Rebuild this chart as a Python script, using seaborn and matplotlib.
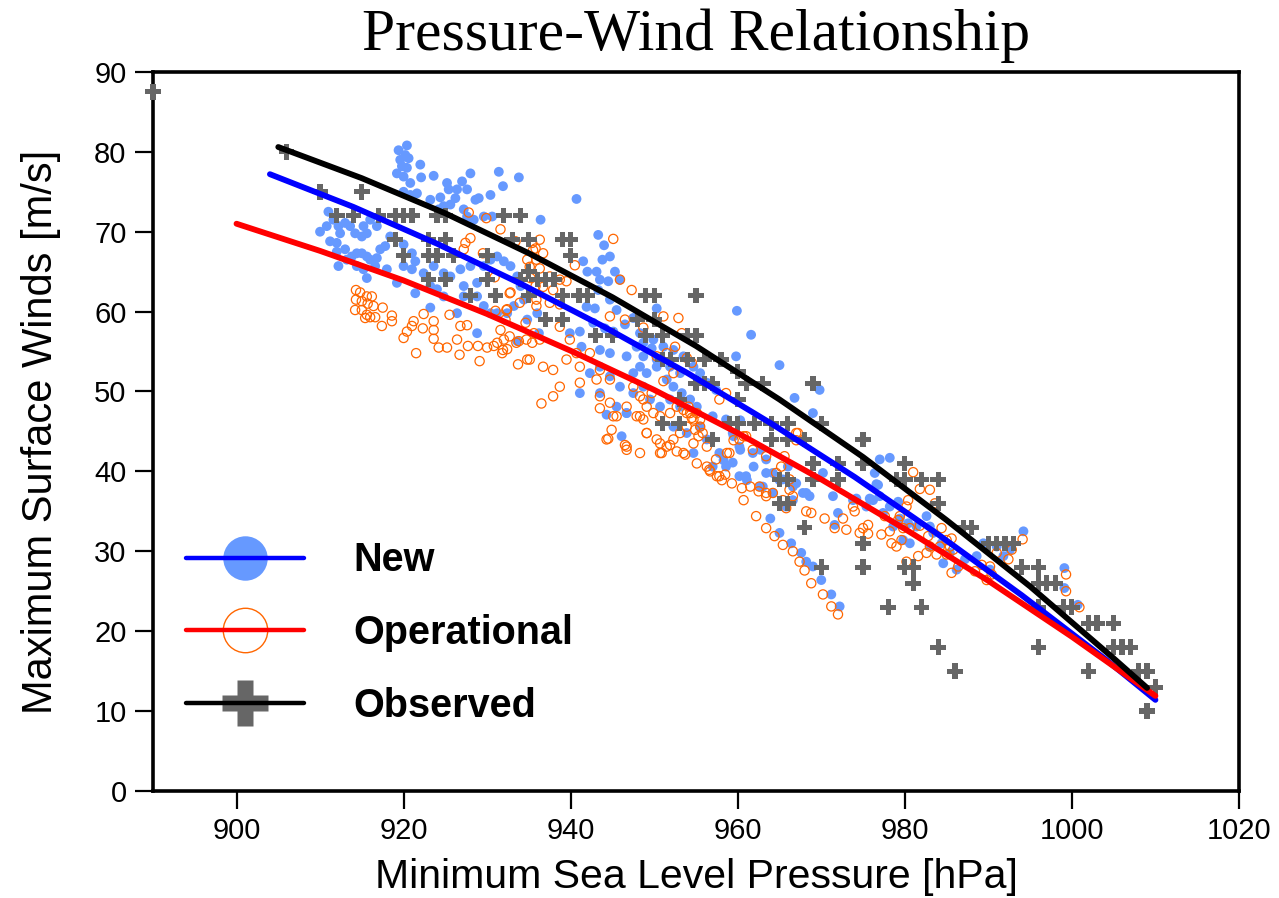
import matplotlib
matplotlib.use("Agg")
import matplotlib.pyplot as plt
import pandas as pd
import seaborn as sns
from matplotlib.lines import Line2D
from matplotlib.legend_handler import HandlerTuple

# ---------------------------------------------------------------------------
# Pressure (hPa) / maximum wind (m/s) pairs
# ---------------------------------------------------------------------------
new_points = [
    (920.4, 80.8), (919.4, 80.2), (920.2, 79.6), (919.6, 79.0), (920.6, 79.2),
    (919.8, 78.2), (920.4, 78.0), (919.2, 77.3), (920.0, 76.9), (920.8, 76.1),
    (922.0, 78.4), (922.1, 76.8), (923.6, 77.0), (925.2, 76.1), (925.4, 75.3),
    (926.4, 75.3), (927.0, 76.3), (928.0, 77.3), (927.6, 75.3), (928.6, 74.0),
    (929.0, 74.2), (930.4, 74.6), (931.4, 77.5), (933.8, 76.8), (931.9, 75.7),
    (921.6, 74.8), (920.8, 74.6), (920.0, 75.0), (923.2, 74.0), (924.4, 74.3),
    (925.6, 73.4), (924.8, 73.2), (924.2, 72.8), (926.2, 74.2), (927.2, 72.8),
    (927.6, 71.9), (928.4, 71.5), (929.6, 71.9), (930.6, 71.9), (910.0, 70.0),
    (911.0, 72.5), (911.6, 71.5), (910.8, 70.7), (912.2, 70.7), (913.0, 71.1),
    (912.4, 69.8), (913.6, 70.7), (914.2, 69.8), (915.0, 69.4), (915.2, 70.7),
    (916.0, 71.5), (916.8, 70.7), (915.6, 69.8), (911.2, 68.8), (912.0, 68.6),
    (912.0, 67.5), (913.0, 67.8), (913.8, 66.9), (914.4, 67.3), (915.0, 67.3),
    (915.6, 66.9), (916.0, 66.5), (916.8, 66.7), (917.2, 67.8), (917.8, 68.2),
    (918.4, 69.4), (920.0, 68.4), (921.0, 67.3), (921.4, 66.3), (921.0, 65.3),
    (920.0, 65.7), (918.0, 65.3), (916.6, 65.7), (915.2, 65.3), (915.6, 64.2),
    (914.4, 65.7), (913.2, 66.5), (912.2, 65.7), (919.2, 63.6), (921.4, 62.3),
    (923.2, 63.2), (924.0, 62.8), (924.8, 61.9), (922.4, 64.8), (923.6, 65.7),
    (924.8, 64.8), (925.6, 64.4), (926.8, 65.3), (927.2, 63.2), (928.8, 63.6),
    (928.0, 65.7), (929.6, 65.7), (930.4, 66.5), (931.2, 66.9), (932.0, 66.3),
    (932.8, 65.7), (933.6, 64.4), (934.0, 63.2), (934.4, 61.5), (933.2, 60.7),
    (932.4, 59.8), (931.2, 59.8), (930.4, 59.8), (929.6, 60.7), (928.8, 61.9),
    (927.2, 61.9), (923.2, 60.5), (926.4, 59.8), (928.8, 57.3), (933.6, 56.3),
    (934.8, 59.0), (936.0, 59.8), (936.2, 57.3),
    (936.4, 71.5), (940.7, 74.1), (943.3, 69.6), (944.0, 68.3), (944.7, 66.9),
    (943.8, 66.5), (941.5, 66.3), (942.0, 65.0), (943.1, 65.0), (945.3, 65.0),
    (945.9, 64.0), (944.5, 63.8), (943.5, 64.0), (943.3, 62.7), (941.9, 60.6),
    (942.9, 60.4), (944.7, 61.5), (945.5, 60.2), (950.3, 60.4), (947.5, 59.2),
    (946.5, 58.4), (945.1, 57.5), (944.1, 57.9), (942.7, 58.6), (941.1, 57.5),
    (939.9, 57.3), (941.3, 55.6), (943.5, 55.2), (944.7, 54.8), (946.7, 54.4),
    (947.9, 55.6), (948.7, 54.4), (949.7, 55.4), (948.3, 53.1), (947.5, 52.3),
    (949.1, 52.3), (950.3, 53.1), (951.5, 51.5), (952.3, 50.6), (953.3, 49.8),
    (954.3, 49.0), (955.1, 48.1), (953.1, 48.1), (951.9, 49.0), (950.7, 48.1),
    (949.5, 49.0), (948.7, 50.6), (947.5, 49.8), (945.9, 50.6), (944.7, 51.9),
    (943.5, 53.1), (942.3, 52.3), (941.1, 49.8), (943.5, 49.8), (945.5, 48.1),
    (946.7, 47.3), (946.1, 44.4), (955.5, 45.6), (957.0, 46.9), (958.6, 46.5),
    (959.4, 44.8), (960.2, 43.1), (961.8, 42.3), (963.4, 41.5), (964.2, 39.8),
    (965.4, 39.0), (966.6, 38.1), (959.4, 41.1), (960.2, 39.4), (958.6, 40.6),
    (957.8, 42.3), (956.3, 44.0), (953.9, 44.8), (952.3, 45.6), (954.7, 42.3),
    (957.0, 40.6), (961.0, 39.4), (963.0, 38.1), (959.9, 60.1), (961.6, 57.1),
    (965.0, 53.3), (966.8, 49.2), (969.0, 47.3), (969.8, 50.2), (977.0, 41.5),
    (978.2, 41.7), (976.6, 38.4), (968.2, 37.3), (966.0, 40.6), (948.3, 57.3),
    (949.9, 56.5), (951.1, 55.6), (952.3, 55.2), (953.5, 54.4), (954.7, 53.1),
    (955.5, 52.3), (956.3, 51.1), (957.4, 50.2), (948.7, 56.1), (950.3, 54.0),
    (951.9, 53.1), (953.1, 52.3), (959.8, 54.4),
    (944.3, 47.1), (946.7, 47.3), (960.3, 42.7), (961.9, 40.6), (961.1, 38.9),
    (962.7, 38.1), (964.2, 37.3), (963.4, 39.8), (965.0, 38.9), (967.0, 38.5),
    (967.8, 37.3), (968.6, 36.9), (966.6, 36.4), (965.8, 35.6), (963.9, 34.1),
    (965.0, 32.3), (966.4, 31.0), (967.6, 29.8), (968.2, 28.7), (969.0, 28.1),
    (970.0, 26.4), (971.2, 24.6), (972.2, 23.1), (970.2, 39.8), (971.4, 36.9),
    (972.0, 34.8), (971.6, 33.3), (962.7, 42.7), (959.5, 44.4), (958.3, 41.4),
    (960.3, 46.4),
    (976.4, 39.8), (976.8, 38.3), (974.2, 36.6), (976.2, 36.4), (977.0, 36.9),
    (978.2, 35.6), (979.2, 36.2), (979.4, 34.1), (980.4, 33.5), (981.4, 33.1),
    (982.6, 34.4), (983.0, 33.1), (983.4, 32.3), (984.4, 31.0), (985.4, 29.8),
    (984.6, 28.5), (986.2, 27.7), (987.2, 29.0), (988.6, 29.4), (989.4, 31.0),
    (991.0, 30.6), (991.8, 29.4), (992.6, 30.2), (994.2, 32.5), (999.1, 27.9),
    (999.1, 25.4), (1000.7, 23.3), (980.6, 31.0), (983.0, 30.6), (975.8, 36.6),
    (973.8, 36.4), (975.4, 35.6), (977.4, 34.8), (978.6, 33.1), (979.8, 31.4),
    (990.2, 27.7),
]

operational_points = [
    (914.3, 62.7), (914.8, 62.4), (915.6, 61.9), (916.2, 61.9), (914.3, 61.5),
    (915.0, 61.3), (915.7, 61.0), (916.4, 60.7), (914.2, 60.2), (915.0, 60.2),
    (915.6, 59.6), (916.0, 59.3), (916.6, 59.3), (915.4, 59.2), (917.5, 60.5),
    (918.6, 59.5), (918.6, 58.8), (917.4, 58.2), (922.4, 59.7), (923.6, 58.8),
    (921.2, 58.8), (921.0, 58.2), (920.4, 57.5), (920.0, 56.7), (922.3, 57.9),
    (923.6, 57.7), (923.6, 56.6), (921.5, 54.8), (924.2, 55.5), (925.2, 55.5),
    (925.5, 59.6), (926.4, 56.5), (926.8, 58.2), (927.6, 58.3), (926.7, 54.6),
    (927.7, 55.7), (928.9, 55.7), (929.1, 53.8), (930.0, 55.5), (930.8, 55.7),
    (931.2, 56.1), (932.0, 56.5), (931.8, 54.8), (932.4, 55.3), (933.7, 53.4),
    (934.8, 54.0), (935.4, 56.1), (933.8, 56.3), (932.2, 59.0), (931.0, 60.1),
    (931.6, 57.7), (934.6, 58.6), (935.6, 57.3), (927.8, 72.4), (929.9, 71.7),
    (931.6, 70.3), (928.0, 69.2), (927.4, 68.6), (927.2, 67.8), (929.5, 67.3),
    (930.9, 64.3), (932.8, 62.4), (933.4, 68.8), (935.4, 68.6), (935.8, 67.9),
    (934.8, 66.5), (935.2, 64.2), (935.8, 63.2), (935.9, 60.7), (932.4, 60.3),
    (936.3, 69.0), (935.5, 67.7), (936.7, 67.3), (935.9, 66.5), (935.1, 65.6),
    (936.3, 65.4), (937.5, 64.4), (938.7, 64.0), (939.5, 63.8), (936.7, 63.1),
    (937.9, 62.7), (935.9, 61.5), (937.5, 61.1), (938.7, 60.9), (933.9, 61.1),
    (932.7, 62.3), (932.3, 60.2), (945.1, 69.1), (940.5, 65.8), (945.9, 64.0),
    (947.3, 62.7), (944.7, 59.4), (946.5, 59.0), (948.7, 58.0), (951.1, 59.4),
    (952.9, 59.2), (953.3, 57.3), (952.5, 55.6), (951.5, 54.8), (950.3, 54.4),
    (953.9, 54.2), (954.5, 53.6), (952.3, 52.3), (951.1, 51.3), (949.7, 49.8),
    (948.7, 49.0), (947.5, 50.6), (948.3, 49.4), (949.1, 48.1), (949.9, 47.3),
    (950.7, 46.9), (951.9, 47.3), (952.7, 48.1), (953.5, 47.7), (954.3, 47.3),
    (954.7, 46.5), (955.5, 45.6), (953.9, 45.6), (953.1, 44.8), (952.3, 44.0),
    (951.5, 43.1), (950.7, 42.3), (953.5, 42.3), (954.7, 43.5), (956.3, 43.1),
    (957.4, 41.5), (956.6, 40.2), (957.8, 39.4), (959.0, 42.3), (960.2, 44.0),
    (961.8, 42.7), (961.0, 44.4), (958.6, 49.8), (957.8, 49.0), (962.6, 38.1),
    (963.4, 37.3), (964.6, 39.8), (966.2, 39.0), (967.0, 44.8), (965.6, 41.9),
    (944.7, 51.5), (943.1, 51.5), (941.1, 53.1), (939.5, 54.0), (937.9, 52.7),
    (936.7, 53.1), (935.1, 54.0), (933.5, 56.1), (931.9, 55.2), (932.7, 56.9),
    (934.7, 56.5), (936.3, 56.5), (938.7, 58.1), (939.9, 56.5), (940.7, 54.8),
    (942.3, 54.8), (943.5, 52.7), (937.9, 49.4), (938.7, 50.6), (941.1, 51.1),
    (943.5, 49.4), (944.7, 48.6), (945.1, 46.9), (944.3, 44.0), (946.7, 48.1),
    (947.9, 46.9), (948.7, 46.5), (946.7, 43.1), (949.1, 44.8), (950.3, 44.0),
    (948.3, 42.3), (953.9, 47.3), (954.5, 46.7), (955.1, 47.3), (955.5, 46.5),
    (954.1, 48.1), (954.9, 45.2), (955.8, 44.8), (955.3, 44.4),
    (936.5, 48.5), (944.5, 44.1), (944.9, 45.2), (946.5, 43.3), (946.7, 42.7),
    (943.5, 47.9), (945.5, 46.9), (948.3, 46.9), (949.1, 44.8), (950.7, 43.5),
    (950.9, 42.3), (951.9, 43.3), (952.7, 42.5), (953.7, 42.1), (955.1, 41.0),
    (956.3, 40.6), (956.7, 40.0), (957.5, 39.4), (958.1, 38.9), (958.5, 39.6),
    (959.3, 38.5), (960.5, 37.9), (960.7, 36.4), (961.5, 38.1), (962.5, 37.5),
    (963.4, 36.9), (964.2, 37.3), (965.4, 36.4), (965.8, 35.4), (966.6, 36.9),
    (968.2, 35.0), (968.8, 34.8), (970.4, 34.1), (971.6, 32.9), (962.2, 34.4),
    (963.4, 32.9), (964.4, 31.9), (965.4, 30.8), (966.6, 30.0), (967.4, 28.7),
    (968.0, 27.6), (968.8, 26.0), (970.2, 24.6), (971.2, 23.1), (972.0, 22.1),
    (958.7, 42.3), (960.7, 44.4), (963.4, 41.9), (965.2, 40.6), (966.2, 37.7),
    (967.2, 44.8), (967.0, 43.9), (959.5, 43.9), (973.0, 32.7), (972.6, 34.1),
    (981.0, 39.9), (981.8, 37.8), (983.0, 37.7), (983.6, 36.0), (980.4, 36.4),
    (980.2, 35.6), (977.6, 34.4), (979.4, 34.4), (979.2, 33.9), (979.8, 32.9),
    (980.6, 32.9), (981.8, 33.2), (984.4, 32.9), (975.0, 32.9), (975.6, 33.3),
    (974.6, 32.3), (975.6, 32.2), (977.2, 32.1), (978.2, 32.5), (978.4, 31.0),
    (979.6, 31.4), (979.0, 30.6), (982.8, 31.9), (983.0, 30.6), (982.6, 29.8),
    (981.6, 29.4), (980.2, 28.7), (984.2, 30.6), (985.0, 31.4), (985.4, 30.6),
    (985.6, 31.6), (985.8, 30.2), (985.0, 29.6), (983.8, 29.6), (986.4, 28.1),
    (985.6, 27.3), (988.4, 27.5), (989.2, 28.3), (990.2, 28.1), (990.4, 27.1),
    (989.8, 26.4), (991.0, 29.8), (992.4, 29.0), (992.8, 30.2), (994.1, 31.5),
    (999.3, 27.1), (999.3, 25.0), (1000.9, 23.0), (974.0, 35.0), (973.8, 35.6),
]

observed_points = [
    (890, 87.5), (906, 80), (910, 75), (915, 75),
    (912, 72), (914, 72), (917, 72), (919, 72), (920, 72), (921, 72),
    (924, 72), (925, 72), (932, 72), (934, 72),
    (919, 69), (923, 69), (925, 69), (933, 69), (935, 69), (939, 69), (940, 69),
    (920, 67), (923, 67), (924, 67), (926, 67), (930, 67), (940, 67),
    (935, 65),
    (923, 64), (925, 64), (930, 64), (934, 64), (936, 64), (937, 64), (938, 64),
    (928, 62), (931, 62), (935, 62), (939, 62), (941, 62), (942, 62),
    (949, 62), (950, 62), (955, 62),
    (937, 59), (939, 59), (948, 59), (950, 59),
    (943, 57), (945, 57), (949, 57), (951, 57), (954, 57), (955, 57),
    (951, 54), (952, 54), (954, 54), (956, 54), (958, 54),
    (960, 52.5),
    (955, 51), (956, 51), (957, 51), (961, 51), (963, 51), (969, 51),
    (953, 49), (960, 49),
    (951, 46), (953, 46), (959, 46), (960, 46), (962, 46), (964, 46),
    (966, 46), (970, 46),
    (957, 44), (964, 44), (966, 44), (968, 44), (975, 44),
    (969, 41), (972, 41), (975, 41), (980, 41),
    (965, 39), (966, 39), (969, 39), (972, 39), (979, 39), (980, 39),
    (982, 39), (984, 39),
    (965, 36), (966, 36), (984, 36),
    (968, 33), (987, 33), (988, 33),
    (975, 31), (990, 31), (991, 31), (992, 31), (993, 31),
    (970, 28), (975, 28), (980, 28), (981, 28), (994, 28), (996, 28),
    (981, 26), (996, 26), (997, 26), (998, 26),
    (978, 23), (982, 23), (996, 23), (999, 23), (1000, 23),
    (1002, 21), (1003, 21), (1005, 21),
    (984, 18), (996, 18), (1005, 18), (1006, 18), (1007, 18),
    (986, 15), (1002, 15), (1008, 15), (1009, 15),
    (1010, 13), (1009, 10),
]

# Fitted pressure-wind curves
observed_fit_pressure = [905, 915, 925, 935, 945, 955, 965, 975, 985, 995, 1005, 1009]
observed_fit_wind = [80.6, 76.7, 72.3, 67.3, 61.8, 55.7, 49.0, 41.8, 33.9, 25.6, 16.6, 12.9]
new_fit_pressure = [904, 914, 924, 934, 944, 954, 964, 974, 984, 994, 1004, 1010]
new_fit_wind = [77.2, 73.1, 68.5, 63.5, 58.1, 52.3, 46.0, 39.3, 32.1, 24.5, 16.5, 11.4]
operational_fit_pressure = [900, 910, 920, 930, 940, 950, 960, 970, 980, 990, 1000, 1010]
operational_fit_wind = [71.0, 67.6, 63.9, 59.7, 55.1, 50.2, 44.8, 39.0, 32.8, 26.3, 19.3, 11.9]

x_ticks = [900, 920, 940, 960, 980, 1000, 1020]
y_ticks = [0, 10, 20, 30, 40, 50, 60, 70, 80, 90]
series_labels = ["New", "Operational", "Observed"]

# ---------------------------------------------------------------------------
sns.set_theme(style="white")
plt.rcParams["font.family"] = ["Liberation Sans", "DejaVu Sans"]
plt.rcParams.update({
    "text.color": "black",
    "axes.labelcolor": "black",
    "xtick.color": "black",
    "ytick.color": "black",
    "axes.edgecolor": "black",
})

NEW_DOT = "#6699FF"
OPER_RING = "#FF6600"
OBS_CROSS = "#666666"

fig = plt.figure(figsize=(12.79, 8.98), dpi=100)
ax = fig.add_axes([0.1196, 0.1192, 0.8491, 0.8007])

new_df = pd.DataFrame(new_points, columns=["pressure", "wind"])
oper_df = pd.DataFrame(operational_points, columns=["pressure", "wind"])
obs_df = pd.DataFrame(observed_points, columns=["pressure", "wind"])

sns.scatterplot(data=new_df, x="pressure", y="wind", ax=ax, color=NEW_DOT,
                s=50, edgecolor="none", linewidth=0, zorder=2, legend=False)
sns.scatterplot(data=oper_df, x="pressure", y="wind", ax=ax, marker="o",
                s=44, facecolors="none", edgecolor=OPER_RING, linewidth=0.9,
                zorder=3, legend=False)
sns.scatterplot(data=obs_df, x="pressure", y="wind", ax=ax, marker="P",
                s=125, color=OBS_CROSS, edgecolor="none", linewidth=0,
                zorder=4, legend=False, clip_on=False)

line_kw = dict(ax=ax, sort=False, estimator=None, linewidth=4.2,
               solid_capstyle="round", legend=False)
sns.lineplot(x=new_fit_pressure, y=new_fit_wind, color="#0000FF", zorder=5, **line_kw)
sns.lineplot(x=operational_fit_pressure, y=operational_fit_wind, color="#FF0000", zorder=6, **line_kw)
sns.lineplot(x=observed_fit_pressure, y=observed_fit_wind, color="black", zorder=7, **line_kw)

ax.set_xlim(890, 1020)
ax.set_ylim(0, 90)
ax.set_xticks(x_ticks)
ax.set_yticks(y_ticks)
ax.tick_params(axis="both", which="major", direction="out", length=13, width=1.6,
               labelsize=21, pad=6, bottom=True, left=True)

for side in ["left", "right", "top", "bottom"]:
    ax.spines[side].set_visible(True)
    ax.spines[side].set_linewidth(2.6)
    ax.spines[side].set_color("black")

ax.set_xlabel("Minimum Sea Level Pressure [hPa]", fontsize=29.5, labelpad=9)
ax.set_ylabel("Maximum Surface Winds [m/s]", fontsize=30, labelpad=24)
ax.set_title("Pressure-Wind Relationship", fontsize=42.8, pad=16,
             fontfamily=["Liberation Serif", "DejaVu Serif"])

# Legend: each entry is a large marker with the fitted line drawn over it
handles = []
for mk_kw, line_color in [
    (dict(marker="o", markersize=32, markerfacecolor=NEW_DOT, markeredgecolor="none"), "#0000FF"),
    (dict(marker="o", markersize=32, markerfacecolor="none", markeredgecolor=OPER_RING,
          markeredgewidth=1.0), "#FF0000"),
    (dict(marker="P", markersize=33, markerfacecolor=OBS_CROSS, markeredgecolor="none"), "black"),
]:
    mk = Line2D([], [], linestyle="none", **mk_kw)
    ln = Line2D([], [], color=line_color, linewidth=3.2, solid_capstyle="round")
    handles.append((mk, ln))

ax.legend(handles=handles, labels=series_labels,
          handler_map={tuple: HandlerTuple(ndivide=1)},
          loc="upper left", bbox_to_anchor=(0.03, 0.347), frameon=False,
          prop={"weight": "bold", "size": 28.5}, handlelength=3.0,
          handletextpad=1.25, labelspacing=0.88, borderpad=0, borderaxespad=0)

fig.savefig("out.png", dpi=100)
